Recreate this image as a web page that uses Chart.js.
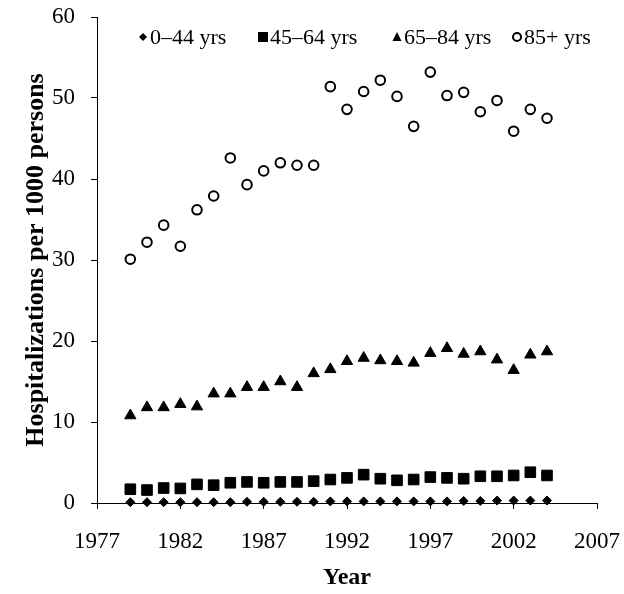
<!DOCTYPE html>
<html>
<head>
<meta charset="utf-8">
<script src="https://cdn.jsdelivr.net/npm/chart.js@4/dist/chart.umd.min.js"></script>
<style>
  html, body { margin: 0; padding: 0; background: #fff; }
  #wrap { width: 624px; height: 594px; }
</style>
</head>
<body>
<div id="wrap"><canvas id="c" width="624" height="594"></canvas></div>
<script>
// ---- data ----
const years = [1979,1980,1981,1982,1983,1984,1985,1986,1987,1988,1989,1990,1991,1992,1993,1994,1995,1996,1997,1998,1999,2000,2001,2002,2003,2004];
const age0to44  = [0.1,0.1,0.1,0.1,0.1,0.1,0.1,0.15,0.15,0.15,0.15,0.15,0.2,0.2,0.2,0.2,0.2,0.2,0.2,0.2,0.25,0.25,0.3,0.3,0.3,0.3];
const age45to64 = [1.7,1.6,1.85,1.8,2.3,2.2,2.5,2.6,2.5,2.6,2.6,2.7,2.9,3.1,3.5,3.0,2.8,2.9,3.2,3.1,3.0,3.3,3.3,3.4,3.8,3.4];
const age65to84 = [10.8,11.8,11.8,12.2,11.9,13.5,13.5,14.3,14.3,15.0,14.3,16.0,16.5,17.5,17.9,17.6,17.5,17.3,18.5,19.1,18.4,18.7,17.7,16.4,18.3,18.7];
const age85plus = [30.1,32.2,34.3,31.7,36.2,37.9,42.6,39.3,41.0,42.0,41.7,41.7,51.4,48.6,50.8,52.2,50.2,46.5,53.2,50.3,50.7,48.3,49.7,45.9,48.6,47.5];
const seriesNames = ['0\u201344 yrs', '45\u201364 yrs', '65\u201384 yrs', '85+ yrs'];
const xTickValues = [1977,1982,1987,1992,1997,2002,2007];
const yTickValues = [0,10,20,30,40,50,60];
const xTitle = 'Year';
const yTitle = 'Hospitalizations per 1000 persons';

const pts = arr => years.map((y, i) => ({ x: y, y: arr[i] }));
const FONT = '"Liberation Serif", "Times New Roman", serif';

// legend drawn inside the plot area, next to the top
const legendPlugin = {
  id: 'insideLegend',
  afterDraw(chart) {
    const ctx = chart.ctx;
    const cy = 37;
    const markerX = [143, 263, 397, 517];
    const styles = ['diamond', 'square', 'triangle', 'circle'];
    ctx.save();
    ctx.fillStyle = '#000';
    ctx.strokeStyle = '#000';
    ctx.font = '22px ' + FONT;
    ctx.textBaseline = 'middle';
    ctx.textAlign = 'left';
    seriesNames.forEach((name, i) => {
      const mx = markerX[i];
      ctx.beginPath();
      if (styles[i] === 'diamond') {
        ctx.moveTo(mx - 4, cy); ctx.lineTo(mx, cy - 4); ctx.lineTo(mx + 4, cy); ctx.lineTo(mx, cy + 4); ctx.closePath(); ctx.fill();
      } else if (styles[i] === 'square') {
        ctx.rect(mx - 5, cy - 5, 10, 10); ctx.fill();
      } else if (styles[i] === 'triangle') {
        ctx.moveTo(mx, cy - 5); ctx.lineTo(mx + 4.5, cy + 4); ctx.lineTo(mx - 4.5, cy + 4); ctx.closePath(); ctx.fill();
      } else {
        ctx.lineWidth = 2; ctx.arc(mx, cy, 4, 0, Math.PI * 2); ctx.stroke();
      }
      ctx.fillText(name, mx + 7, cy + 1);
    });
    ctx.restore();
  }
};

const common = { borderColor: '#000', backgroundColor: '#000', showLine: false, clip: false };

new Chart(document.getElementById('c'), {
  type: 'scatter',
  data: {
    datasets: [
      { ...common, label: seriesNames[0], data: pts(age0to44),  pointStyle: 'rectRot',  pointRadius: 4.5, borderWidth: 1 },
      { ...common, label: seriesNames[1], data: pts(age45to64), pointStyle: 'rect',     pointRadius: 7.5, borderWidth: 1 },
      { ...common, label: seriesNames[2], data: pts(age65to84), pointStyle: 'triangle', pointRadius: 6.5, borderWidth: 1 },
      { ...common, label: seriesNames[3], data: pts(age85plus), pointStyle: 'circle',   pointRadius: 4.8, borderWidth: 2, backgroundColor: 'rgba(255,255,255,0)' }
    ]
  },
  options: {
    responsive: false,
    devicePixelRatio: 1,
    animation: false,
    events: [],
    layout: { padding: { top: 17, right: 27, left: 0, bottom: 0 } },
    plugins: { legend: { display: false }, tooltip: { enabled: false } },
    scales: {
      x: {
        type: 'linear',
        min: 1977, max: 2007,
        afterBuildTicks: s => { s.ticks = xTickValues.map(v => ({ value: v })); },
        afterFit: s => { s.height = 91; s.paddingLeft = 0; s.paddingRight = 0; },
        ticks: { color: '#000', font: { family: FONT, size: 23 }, padding: 19, maxRotation: 0, callback: v => String(v) },
        grid: { display: true, drawOnChartArea: false, drawTicks: true, tickLength: 6, color: '#000', lineWidth: 1 },
        border: { display: true, color: '#000', width: 1 },
        title: { display: true, text: xTitle, color: '#000', font: { family: FONT, size: 24, weight: 'bold' }, padding: { top: 0, bottom: 2 } }
      },
      y: {
        type: 'linear',
        min: 0, max: 60,
        afterBuildTicks: s => { s.ticks = yTickValues.map(v => ({ value: v })); },
        afterFit: s => { s.width = 97; s.paddingTop = 0; s.paddingBottom = 0; },
        ticks: { color: '#000', font: { family: FONT, size: 23 }, padding: 16, callback: v => String(v) },
        grid: { display: true, drawOnChartArea: false, drawTicks: true, tickLength: 6, color: '#000', lineWidth: 1 },
        border: { display: true, color: '#000', width: 1 },
        title: { display: true, text: yTitle, color: '#000', font: { family: FONT, size: 26, weight: 'bold' }, padding: { top: 21, bottom: 0 } }
      }
    }
  },
  plugins: [legendPlugin]
});
</script>
</body>
</html>
